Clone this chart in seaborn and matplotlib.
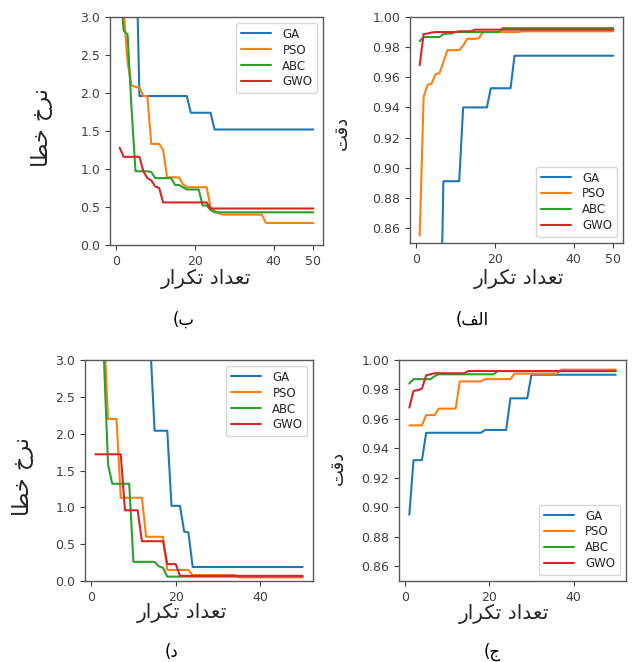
import numpy as np
import pandas as pd
import matplotlib
matplotlib.use("Agg")
import matplotlib.pyplot as plt
import seaborn as sns

# ---------------- data ----------------
iterations = list(range(1, 51))
algorithms = ["GA", "PSO", "ABC", "GWO"]
colors = ["#1f77b4", "#ff7f0e", "#2ca02c", "#d62728"]

# (ب) error rate, top-left
err_b_GA = [5.5, 5.2, 4.9, 4.6, 4.3,
            1.96, 1.96, 1.96, 1.96, 1.96, 1.96, 1.96, 1.96, 1.96, 1.96, 1.96, 1.96, 1.96,
            1.74, 1.74, 1.74, 1.74, 1.74, 1.74,
            1.52, 1.52, 1.52, 1.52, 1.52, 1.52, 1.52, 1.52, 1.52, 1.52, 1.52, 1.52, 1.52,
            1.52, 1.52, 1.52, 1.52, 1.52, 1.52, 1.52, 1.52, 1.52, 1.52, 1.52, 1.52, 1.52]
err_b_PSO = [3.6, 3.1, 2.4, 2.1, 2.08, 2.07, 1.96, 1.96, 1.33, 1.33, 1.33, 1.25,
             0.89, 0.89, 0.89, 0.89, 0.80,
             0.76, 0.76, 0.76, 0.76, 0.76, 0.76,
             0.50, 0.45, 0.42,
             0.40, 0.40, 0.40, 0.40, 0.40, 0.40, 0.40, 0.40, 0.40, 0.40, 0.40,
             0.29, 0.29, 0.29, 0.29, 0.29, 0.29, 0.29, 0.29, 0.29, 0.29, 0.29, 0.29, 0.29]
err_b_ABC = [3.5, 2.82, 2.77, 1.8,
             0.97, 0.97, 0.97, 0.97, 0.96,
             0.88, 0.88, 0.88, 0.88, 0.88,
             0.79, 0.79, 0.76,
             0.73, 0.73, 0.73, 0.73,
             0.52, 0.52, 0.46,
             0.43, 0.43, 0.43, 0.43, 0.43, 0.43, 0.43, 0.43, 0.43, 0.43, 0.43, 0.43, 0.43,
             0.43, 0.43, 0.43, 0.43, 0.43, 0.43, 0.43, 0.43, 0.43, 0.43, 0.43, 0.43, 0.43]
err_b_GWO = [1.28, 1.16, 1.16, 1.16, 1.16, 1.16, 0.97, 0.88, 0.85, 0.77, 0.75,
             0.56, 0.56, 0.56, 0.56, 0.56, 0.56, 0.56, 0.56, 0.56, 0.56, 0.56, 0.56,
             0.48, 0.48, 0.48, 0.48, 0.48, 0.48, 0.48, 0.48, 0.48, 0.48, 0.48, 0.48, 0.48,
             0.48, 0.48, 0.48, 0.48, 0.48, 0.48, 0.48, 0.48, 0.48, 0.48, 0.48, 0.48, 0.48, 0.48]

# (الف) accuracy, top-right
acc_a_GA = [0.75, 0.75, 0.75, 0.75, 0.75, 0.75,
            0.891, 0.891, 0.891, 0.891, 0.891,
            0.940, 0.940, 0.940, 0.940, 0.940, 0.940, 0.940,
            0.9527, 0.9527, 0.9527, 0.9527, 0.9527, 0.9527,
            0.9743, 0.9743, 0.9743, 0.9743, 0.9743, 0.9743, 0.9743, 0.9743, 0.9743, 0.9743,
            0.9743, 0.9743, 0.9743, 0.9743, 0.9743, 0.9743, 0.9743, 0.9743, 0.9743, 0.9743,
            0.9743, 0.9743, 0.9743, 0.9743, 0.9743, 0.9743]
acc_a_PSO = [0.855, 0.947, 0.955, 0.9557, 0.962, 0.9627, 0.970,
             0.978, 0.978, 0.978, 0.978, 0.981,
             0.9855, 0.9855, 0.9855, 0.986,
             0.990, 0.990, 0.990, 0.990, 0.990, 0.990, 0.990, 0.990, 0.990, 0.990,
             0.9905, 0.9905, 0.9905, 0.9905, 0.9905, 0.9905, 0.9905, 0.9905, 0.9905, 0.9905,
             0.9905, 0.9905, 0.9905, 0.9905, 0.9905, 0.9905, 0.9905, 0.9905, 0.9905, 0.9905,
             0.9905, 0.9905, 0.9905, 0.9905]
acc_a_ABC = [0.984, 0.9867, 0.9867, 0.9867, 0.9867, 0.9867, 0.9887, 0.989, 0.989,
             0.990, 0.990, 0.990, 0.990, 0.990, 0.990, 0.990, 0.990, 0.990, 0.990, 0.990, 0.990,
             0.9926, 0.9926, 0.9926, 0.9926, 0.9926, 0.9926, 0.9926, 0.9926, 0.9926, 0.9926,
             0.9926, 0.9926, 0.9926, 0.9926, 0.9926, 0.9926, 0.9926, 0.9926, 0.9926, 0.9926,
             0.9926, 0.9926, 0.9926, 0.9926, 0.9926, 0.9926, 0.9926, 0.9926, 0.9926]
acc_a_GWO = [0.968, 0.9887, 0.989, 0.9897,
             0.990, 0.990, 0.990, 0.990, 0.990, 0.990,
             0.9905, 0.9905, 0.9905, 0.9905,
             0.9916, 0.9916, 0.9916, 0.9916, 0.9916, 0.9916, 0.9916, 0.9916, 0.9916, 0.9916,
             0.9916, 0.9916, 0.9916, 0.9916, 0.9916, 0.9916, 0.9916, 0.9916, 0.9916, 0.9916,
             0.9916, 0.9916, 0.9916, 0.9916, 0.9916, 0.9916, 0.9916, 0.9916, 0.9916, 0.9916,
             0.9916, 0.9916, 0.9916, 0.9916, 0.9916, 0.9916]

# (د) error rate, bottom-left
err_d_GA = [5.0, 5.0, 5.0, 5.0, 5.0, 5.0, 5.0, 5.0, 5.0, 5.0, 5.0, 5.0, 5.0, 3.2,
            2.04, 2.04, 2.04, 2.04, 1.02, 1.02, 1.02, 0.67, 0.66,
            0.19, 0.19, 0.19, 0.19, 0.19, 0.19, 0.19, 0.19, 0.19, 0.19, 0.19, 0.19, 0.19,
            0.19, 0.19, 0.19, 0.19, 0.19, 0.19, 0.19, 0.19, 0.19, 0.19, 0.19, 0.19, 0.19, 0.19]
err_d_PSO = [4.5, 4.0, 3.45, 2.2, 2.2, 2.2,
             1.13, 1.13, 1.13, 1.13, 1.13, 1.13,
             0.60, 0.60, 0.60, 0.60, 0.60,
             0.15, 0.15, 0.15, 0.15, 0.15, 0.15,
             0.08, 0.08, 0.08, 0.08, 0.08, 0.08, 0.08, 0.08, 0.08, 0.08, 0.08,
             0.05, 0.05, 0.05, 0.05, 0.05, 0.05, 0.05, 0.05, 0.05, 0.05, 0.05, 0.05, 0.05,
             0.05, 0.05, 0.05]
err_d_ABC = [4.5, 4.0, 3.05, 1.58, 1.32, 1.32, 1.32, 1.32, 1.32,
             0.26, 0.26, 0.26, 0.26, 0.26, 0.26, 0.20, 0.18,
             0.06, 0.06, 0.06, 0.06, 0.06, 0.06, 0.06, 0.06, 0.06, 0.06, 0.06, 0.06, 0.06,
             0.06, 0.06, 0.06, 0.06, 0.06, 0.06, 0.06, 0.06, 0.06, 0.06, 0.06, 0.06, 0.06,
             0.06, 0.06, 0.06, 0.06, 0.06, 0.06, 0.06]
err_d_GWO = [1.72, 1.72, 1.72, 1.72, 1.72, 1.72, 1.72,
             0.96, 0.96, 0.96, 0.96,
             0.54, 0.54, 0.54, 0.54, 0.54, 0.54,
             0.23, 0.23, 0.23,
             0.07, 0.07, 0.07, 0.07, 0.07, 0.07, 0.07, 0.07, 0.07, 0.07, 0.07, 0.07, 0.07,
             0.07, 0.07, 0.07, 0.07, 0.07, 0.07, 0.07, 0.07, 0.07, 0.07, 0.07, 0.07, 0.07,
             0.07, 0.07, 0.07, 0.07]

# (ج) accuracy, bottom-right
acc_c_GA = [0.895, 0.932, 0.932, 0.932,
            0.9506, 0.9506, 0.9506, 0.9506, 0.9506, 0.9506, 0.9506, 0.9506, 0.9506, 0.9506,
            0.9506, 0.9506, 0.9506, 0.9506,
            0.9525, 0.9525, 0.9525, 0.9525, 0.9525, 0.9525,
            0.974, 0.974, 0.974, 0.974, 0.974,
            0.990, 0.990, 0.990, 0.990, 0.990, 0.990, 0.990, 0.990, 0.990, 0.990, 0.990,
            0.990, 0.990, 0.990, 0.990, 0.990, 0.990, 0.990, 0.990, 0.990, 0.990]
acc_c_PSO = [0.9556, 0.9556, 0.9556, 0.9556, 0.9626, 0.9626, 0.9626,
             0.967, 0.967, 0.967, 0.967, 0.967,
             0.9855, 0.9855, 0.9855, 0.9855, 0.9855, 0.9855,
             0.987, 0.987, 0.987, 0.987, 0.987, 0.987, 0.987,
             0.9907, 0.9907, 0.9907, 0.9907, 0.9907, 0.9907, 0.9907, 0.9907, 0.9907, 0.9907,
             0.9907,
             0.9935, 0.9935, 0.9935, 0.9935, 0.9935, 0.9935, 0.9935, 0.9935, 0.9935, 0.9935,
             0.9935, 0.9935, 0.9935, 0.9935]
acc_c_ABC = [0.984, 0.987, 0.987, 0.987, 0.987, 0.987, 0.989,
             0.9903, 0.9903, 0.9903, 0.9903, 0.9903, 0.9903, 0.9903, 0.9903, 0.9903, 0.9903,
             0.9903, 0.9903, 0.9903, 0.9903,
             0.9925, 0.9925, 0.9925, 0.9925, 0.9925, 0.9925, 0.9925, 0.9925, 0.9925, 0.9925,
             0.9925, 0.9925, 0.9925, 0.9925, 0.9925, 0.9925, 0.9925, 0.9925, 0.9925, 0.9925,
             0.9925, 0.9925, 0.9925, 0.9925, 0.9925, 0.9925, 0.9925, 0.9925, 0.9925]
acc_c_GWO = [0.9677, 0.979, 0.9795, 0.9805, 0.9896, 0.9903,
             0.991, 0.991, 0.991, 0.991, 0.991, 0.991, 0.991, 0.991,
             0.9925, 0.9925, 0.9925, 0.9925, 0.9925, 0.9925, 0.9925, 0.9925, 0.9925, 0.9925,
             0.9925, 0.9925, 0.9925, 0.9925, 0.9925, 0.9925, 0.9925, 0.9925, 0.9925, 0.9925,
             0.9925, 0.9925, 0.9925, 0.9925, 0.9925, 0.9925, 0.9925, 0.9925, 0.9925, 0.9925,
             0.9925, 0.9925, 0.9925, 0.9925, 0.9925, 0.9925]

# Persian texts (Arabic presentation forms, visual order)
xlabel_text = "\uFEAD\uFE8D\uFEAE\uFB91\uFE97 \uFEA9\uFE8D\uFEAA\uFECC\uFE97"   # تعداد تکرار
err_label = "\uFE8E\uFEC4\uFEA7 \uFEA5\uFEAE\uFEE7"                        # نرخ خطا
acc_label = "\uFE96\uFED7\uFEA9"                                            # دقت
cap_alef = "(\uFED2\uFEDF\uFE8D"   # الف)
cap_be = "(\uFE8F"                 # ب)
cap_jim = "(\uFE9D"                # ج)
cap_dal = "(\uFEA9"                # د)

top_xticks = [0, 20, 40, 50]
bottom_xticks = [0, 20, 40]

# ---------------- style ----------------
sns.set_style("ticks")
plt.rcParams["font.family"] = ["DejaVu Sans"]
plt.rcParams["axes.edgecolor"] = "0.35"
plt.rcParams["xtick.color"] = "0.25"
plt.rcParams["ytick.color"] = "0.25"
plt.rcParams["axes.linewidth"] = 1.0

W, H = 632, 662
fig = plt.figure(figsize=(W / 100, H / 100), dpi=100)


def px_axes(L, R, T, B):
    return fig.add_axes([L / W, 1 - B / H, (R - L) / W, (B - T) / H])


def make_df(series):
    frames = []
    for name, vals in zip(algorithms, series):
        frames.append(pd.DataFrame({"iter": iterations, "val": vals, "alg": name}))
    return pd.concat(frames, ignore_index=True)


panels = [
    dict(box=(110, 323, 17, 245), series=[err_b_GA, err_b_PSO, err_b_ABC, err_b_GWO],
         ylim=(0, 3), ylabel=err_label, loc="upper right", xticks=top_xticks,
         xl=(206, 279), yl=(42, 128), ysz=16),
    dict(box=(410, 623, 17, 243), series=[acc_a_GA, acc_a_PSO, acc_a_ABC, acc_a_GWO],
         ylim=(0.85, 1.0), ylabel=acc_label, loc="lower right", xticks=top_xticks,
         xl=(519, 279), yl=(342, 133), ysz=13),
    dict(box=(85, 313, 360, 581), series=[err_d_GA, err_d_PSO, err_d_ABC, err_d_GWO],
         ylim=(0, 3), ylabel=err_label, loc="upper right", xticks=bottom_xticks,
         xl=(182, 613), yl=(23, 477), ysz=16),
    dict(box=(399, 626, 360, 581), series=[acc_c_GA, acc_c_PSO, acc_c_ABC, acc_c_GWO],
         ylim=(0.85, 1.0), ylabel=acc_label, loc="lower right", xticks=bottom_xticks,
         xl=(504, 614), yl=(338, 468), ysz=13),
]

for p in panels:
    L, R, T, B = p["box"]
    ax = px_axes(L, R, T, B)
    df = make_df(p["series"])
    sns.lineplot(data=df, x="iter", y="val", hue="alg", palette=colors,
                 hue_order=algorithms, errorbar=None, linewidth=1.5, ax=ax)
    ax.set_ylim(*p["ylim"])
    ax.set_xticks(p["xticks"])
    ax.tick_params(labelsize=9, length=3.5, width=0.8)
    ax.set_xlabel(xlabel_text, fontsize=14.5, va="center", ha="center")
    ax.set_ylabel(p["ylabel"], fontsize=p["ysz"], va="center", ha="center")
    ax.xaxis.set_label_coords((p["xl"][0] - L) / (R - L), (B - p["xl"][1]) / (B - T))
    ax.yaxis.set_label_coords((p["yl"][0] - L) / (R - L), (B - p["yl"][1]) / (B - T))
    sns.move_legend(ax, p["loc"], title=None, fontsize=8.5, frameon=True,
                    labelspacing=0.25, handlelength=2.5, handletextpad=1.0,
                    borderpad=0.4)
    ax.set_xlim(-1.45, 52.45)

captions = [(cap_be, 184, 320), (cap_alef, 472, 320), (cap_dal, 172, 652), (cap_jim, 492, 652)]
for txt, cx, cy in captions:
    fig.text(cx / W, 1 - cy / H, txt, fontsize=12, ha="center", va="center", color="black")

fig.savefig("out.png", dpi=100)
